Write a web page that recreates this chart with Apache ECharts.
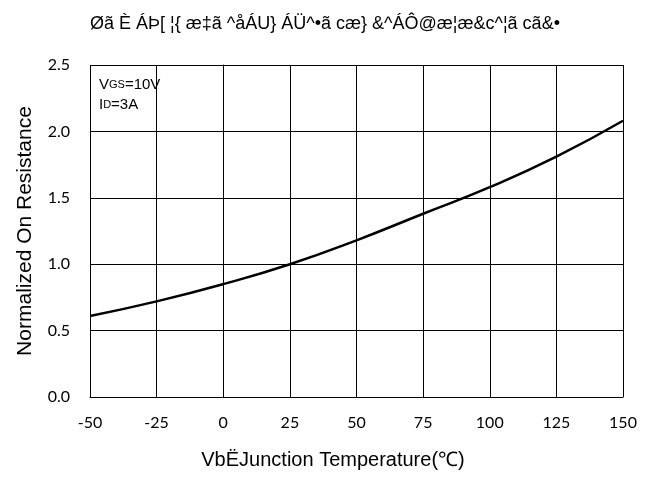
<!DOCTYPE html>
<html><head><meta charset="utf-8">
<script src="https://cdn.jsdelivr.net/npm/echarts@6/dist/echarts.min.js"></script>
<style>html,body{margin:0;padding:0;background:#fff}#c{width:658px;height:480px}</style>
</head><body><div id="c"></div>
<script>
const temperatures = [-50, -25, 0, 25, 50, 75, 100, 125, 150];
const normalizedRds = [0.61, 0.72, 0.85, 1.0, 1.18, 1.38, 1.58, 1.81, 2.08];
const titleText = "Øã È ÁÞ[ ¦{ æ‡ã ^åÁU} ÁÜ^•ã cæ} &^ÁÔ@æ¦æ&c^¦ã cã&•";
const xTitle = "VbËJunction Temperature(℃)";
const yTitle = "Normalized On Resistance";

const chart = echarts.init(document.getElementById('c'), null, {renderer: 'canvas'});
const tickFont = {color: '#000', fontFamily: 'Lato, "Open Sans", sans-serif', fontSize: 16};
const arial = '"Liberation Sans", Arial, sans-serif';
chart.setOption({
  backgroundColor: '#fff',
  animation: false,
  title: {text: titleText, left: 320, top: 10, textAlign: 'center',
    textStyle: {fontFamily: arial, fontSize: 18, fontWeight: 'normal', color: '#000'}},
  grid: {left: 90, right: 35, top: 65, bottom: 83},
  xAxis: {
    type: 'value', min: -50, max: 150, interval: 25,
    name: xTitle, nameLocation: 'middle', nameGap: 53,
    nameTextStyle: {fontFamily: arial, fontSize: 20, color: '#000', padding: [0, 47, 0, 0]},
    axisLine: {show: true, lineStyle: {color: '#000', width: 1}},
    axisTick: {show: false},
    axisLabel: Object.assign({margin: 18}, tickFont),
    splitLine: {show: true, lineStyle: {color: '#000', width: 1}}
  },
  yAxis: {
    type: 'value', min: 0, max: 2.5, interval: 0.5,
    name: yTitle, nameLocation: 'middle', nameGap: 54, nameRotate: 90,
    nameTextStyle: {fontFamily: arial, fontSize: 21, color: '#000'},
    axisLine: {show: true, lineStyle: {color: '#000', width: 1}},
    axisTick: {show: false},
    axisLabel: Object.assign({margin: 20, formatter: v => v.toFixed(1)}, tickFont),
    splitLine: {show: true, lineStyle: {color: '#000', width: 1}}
  },
  series: [{
    type: 'line', smooth: true, symbol: 'none',
    data: temperatures.map((t, i) => [t, normalizedRds[i]]),
    lineStyle: {color: '#000', width: 2.5}
  }],
  graphic: [{
    type: 'group', left: 91, top: 67, z: 100,
    children: [
      {type: 'rect', shape: {x: 0, y: 0, width: 70, height: 54}, style: {fill: '#fff'}},
      {type: 'text', x: 8, y: 8, style: {
        text: '{n|V}{s|GS}{n|=10V}\n{n|I}{s|D}{n|=3A}',
        rich: {
          n: {fontFamily: arial, fontSize: 15, color: '#000', lineHeight: 20},
          s: {fontFamily: arial, fontSize: 11, color: '#000', lineHeight: 20, verticalAlign: 'middle'}
        }
      }}
    ]
  }]
});
</script></body></html>
